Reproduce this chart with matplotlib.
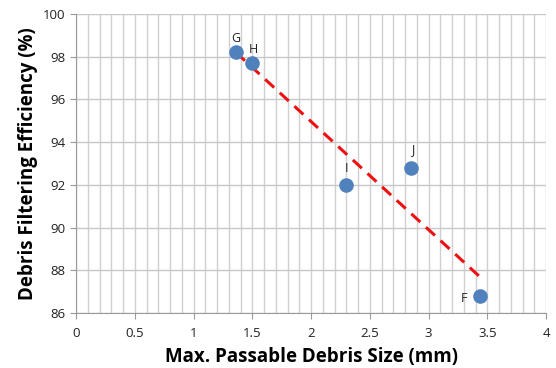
import numpy as np
import matplotlib.pyplot as plt
from matplotlib.ticker import MultipleLocator, FormatStrFormatter

# debris filter data
labels = ["G", "H", "I", "J", "F"]
size_mm = [1.36, 1.50, 2.30, 2.85, 3.44]
efficiency = [98.2, 97.7, 92.0, 92.8, 86.8]
label_offsets = [(0, 10), (1, 10), (0, 12), (1, 13), (-12, -2)]

plt.rcParams['font.family'] = ['Open Sans', 'DejaVu Sans']

fig = plt.figure(figsize=(5.56, 3.68), dpi=100)
ax = fig.add_axes([0.137, 0.149, 0.845, 0.813])

ax.set_xlim(0, 4)
ax.set_ylim(86, 100)
ax.xaxis.set_major_locator(MultipleLocator(0.5))
ax.xaxis.set_minor_locator(MultipleLocator(0.1))
ax.yaxis.set_major_locator(MultipleLocator(2))
ax.xaxis.set_major_formatter(FormatStrFormatter('%g'))

ax.grid(which='both', axis='x', color='#d0d0d0', lw=1)
ax.grid(which='major', axis='y', color='#c8c8c8', lw=1)
ax.set_axisbelow(True)

for side in ['top', 'right']:
    ax.spines[side].set_visible(False)
for side in ['left', 'bottom']:
    ax.spines[side].set_color('#9a9a9a')
ax.tick_params(which='major', length=4, color='#9a9a9a', labelsize=9.5, labelcolor='#222222')
ax.tick_params(axis='x', pad=6)
ax.tick_params(which='minor', length=0)

# linear trend line
coef = np.polyfit(size_mm, efficiency, 1)
xt = np.array([min(size_mm), max(size_mm)])
ax.plot(xt, np.polyval(coef, xt), color='#ee1111', lw=2.2, ls=(0, (4, 2.5)), zorder=3)

ax.scatter(size_mm, efficiency, s=110, color='#4f81bd', zorder=4, linewidths=0)
for lab, x, y, off in zip(labels, size_mm, efficiency, label_offsets):
    ax.annotate(lab, (x, y), xytext=off, textcoords='offset points',
                ha='center', va='center', fontsize=9, color='#222222')

ax.set_xlabel('Max. Passable Debris Size (mm)', fontsize=13.5, fontweight='bold', labelpad=5)
ax.set_ylabel('Debris Filtering Efficiency (%)', fontsize=13.5, fontweight='bold', labelpad=4)

fig.savefig('out.png', dpi=100)
